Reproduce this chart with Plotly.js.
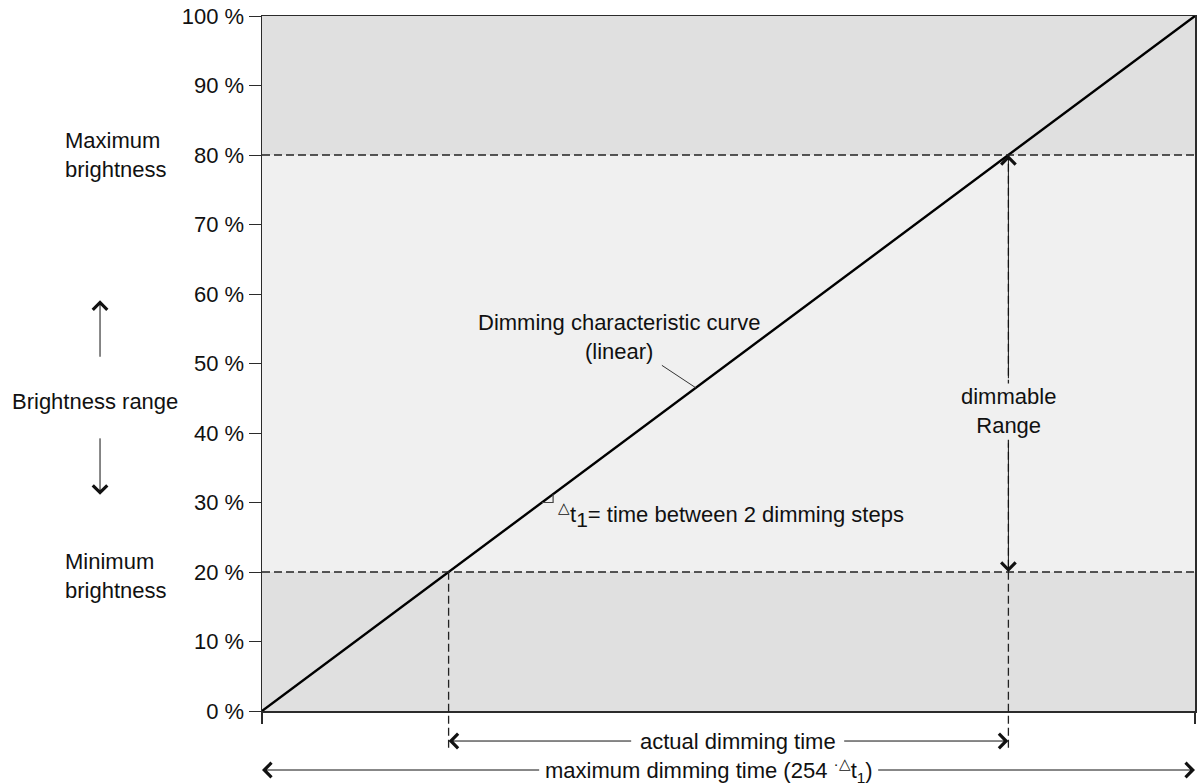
<!DOCTYPE html>
<html>
<head>
<meta charset="utf-8">
<script src="https://cdn.plot.ly/plotly-3.0.1.min.js"></script>
<style>html,body{margin:0;padding:0;background:#fff;}#chart{width:1203px;height:783px;}</style>
</head>
<body>
<div id="chart"></div>
<script>
// ---- data ----
const maxSteps = 254;                 // maximum dimming time = 254 * Δt1
const curveX = [0, 254];              // dimming steps
const curveY = [0, 100];              // brightness %
const minBrightness = 20;             // %
const maxBrightness = 80;             // %
const yTickVals = [0, 10, 20, 30, 40, 50, 60, 70, 80, 90, 100];
const yTickText = ['0 %', '10 %', '20 %', '30 %', '40 %', '50 %', '60 %', '70 %', '80 %', '90 %', '100 %'];
const stepMarkPct = 30;               // where the Δt1 step is marked on the curve

// ---- helpers ----
const xAtPct = p => maxSteps * p / 100;
const xMin = xAtPct(minBrightness);
const xMax = xAtPct(maxBrightness);
const FONT = 'Liberation Sans, Arial, sans-serif';
const DARK = '#2b2b2b';
const BAND_DARK = '#e0e0e0';
const BAND_LIGHT = '#f0f0f0';
const FS = 22;
const CLEAR = 'rgba(0,0,0,0)';

const trace = {
  x: curveX, y: curveY, type: 'scatter', mode: 'lines',
  line: {color: '#000', width: 2.4}, hoverinfo: 'skip', showlegend: false
};

const dashStyle = {color: '#222', width: 1.3, dash: '8px,4px'};
const stepW = maxSteps * 0.012;
const s0x = xAtPct(stepMarkPct), s0y = stepMarkPct;
const s1x = s0x + stepW, s1y = s1x / maxSteps * 100;

const shapes = [
  // brightness bands
  {type: 'rect', xref: 'x', yref: 'y', x0: 0, x1: maxSteps, y0: 0, y1: minBrightness, fillcolor: BAND_DARK, line: {width: 0}, layer: 'below'},
  {type: 'rect', xref: 'x', yref: 'y', x0: 0, x1: maxSteps, y0: minBrightness, y1: maxBrightness, fillcolor: BAND_LIGHT, line: {width: 0}, layer: 'below'},
  {type: 'rect', xref: 'x', yref: 'y', x0: 0, x1: maxSteps, y0: maxBrightness, y1: 100, fillcolor: BAND_DARK, line: {width: 0}, layer: 'below'},
  // horizontal dashed guides
  {type: 'line', xref: 'x', yref: 'y', x0: 0, x1: maxSteps, y0: minBrightness, y1: minBrightness, line: dashStyle},
  {type: 'line', xref: 'x', yref: 'y', x0: 0, x1: maxSteps, y0: maxBrightness, y1: maxBrightness, line: dashStyle},
  // vertical dashed guides extending below the axis
  {type: 'line', xref: 'x', yref: 'paper', x0: xMin, x1: xMin, y0: -0.053, y1: minBrightness / 100, line: dashStyle},
  {type: 'line', xref: 'x', yref: 'paper', x0: xMax, x1: xMax, y0: -0.053, y1: maxBrightness / 100, line: dashStyle},
  // small step mark (Δt1)
  {type: 'path', xref: 'x', yref: 'y',
   path: `M${s0x},${s0y} L${s1x},${s0y} L${s1x},${s1y}`,
   line: {color: '#444', width: 1.2}}
];

const txt = (color) => ({family: FONT, size: FS, color: color || '#111'});
const arrowBase = {arrowcolor: '#111', arrowwidth: 1, arrowsize: 2.8, arrowhead: 4, standoff: 0, startstandoff: 0, showarrow: true, arrowside: 'end'};

// a label sitting on an arrow line: two invisible-text annotations shoot the arrows from the text box edges,
// then the visible label is drawn on top with a tight background matching its surroundings
function splitArrow(common, ends, bg, labelY) {
  const arrows = ends.map(e => Object.assign({}, arrowBase, common, e, {font: txt(CLEAR)}));
  const label = {xref: common.xref, yref: common.yref, x: common.ax, y: labelY, text: common.text, align: 'center',
    showarrow: false, font: txt(), bgcolor: bg, borderpad: 0, xanchor: 'center', yanchor: 'middle'};
  return arrows.concat([label]);
}

const yActual = -0.0432, yMaxTime = -0.0849;
const xActualMid = (xMin + xMax) / 2 + 2.5;
const xMaxMid = maxSteps / 2 - 5.4;
const rangeMid = 43.2;

const annotations = [
  // left side labels
  {xref: 'paper', yref: 'y', x: -0.1565, y: maxBrightness, text: 'Maximum<br>brightness', showarrow: false, font: txt(), align: 'left', xanchor: 'center', yanchor: 'middle'},
  {xref: 'paper', yref: 'y', x: -0.1565, y: minBrightness - 0.6, text: 'Minimum<br>brightness', showarrow: false, font: txt(), align: 'left', xanchor: 'center', yanchor: 'middle'},
  {xref: 'paper', yref: 'y', x: -0.179, y: 44.5, text: 'Brightness range', showarrow: false, font: txt(), xanchor: 'center', yanchor: 'middle'},
  // up / down arrows
  Object.assign({}, arrowBase, {xref: 'paper', yref: 'paper', x: -0.1736, y: 0.591, ax: 0, ay: 58, text: ''}),
  Object.assign({}, arrowBase, {xref: 'paper', yref: 'paper', x: -0.1736, y: 0.311, ax: 0, ay: -58, text: ''}),
  // curve label with leader line to the curve
  {xref: 'x', yref: 'y', x: xAtPct(46.5), y: 46.5, ax: -77, ay: -51, text: 'Dimming characteristic curve<br>(linear)', showarrow: true, arrowhead: 0, arrowwidth: 1, arrowcolor: '#333', standoff: 0, font: txt(), align: 'center'},
  // Δt1 label
  {xref: 'x', yref: 'y', x: 80.0, y: 28.2, text: '<sup>△</sup>t<sub><span style="font-size:21px">1</span></sub>= time between 2 dimming steps', showarrow: false, font: txt(), xanchor: 'left', yanchor: 'middle'}
].concat(
  // dimmable range arrow with label
  splitArrow({xref: 'x', yref: 'y', axref: 'x', ayref: 'y', ax: xMax, ay: rangeMid, text: 'dimmable<br>Range', align: 'center', borderpad: 5},
             [{x: xMax, y: maxBrightness}, {x: xMax, y: minBrightness}], BAND_LIGHT, rangeMid),
  // maximum dimming time arrow
  splitArrow({xref: 'x', yref: 'paper', axref: 'x', ayref: 'pixel', ax: xMaxMid, ay: 0, y: yMaxTime, text: 'maximum dimming time (' + maxSteps + ' <sup>·△</sup>t<sub>1</sub>)', borderpad: 5},
             [{x: 0}, {x: maxSteps}], '#fff', yMaxTime),
  // actual dimming time arrow
  splitArrow({xref: 'x', yref: 'paper', axref: 'x', ayref: 'pixel', ax: xActualMid, ay: 0, y: yActual, text: 'actual dimming time', borderpad: 8},
             [{x: xMin}, {x: xMax}], '#fff', yActual)
);

const layout = {
  width: 1203, height: 783,
  margin: {l: 262, r: 8, t: 16, b: 72, pad: 0},
  paper_bgcolor: '#fff', plot_bgcolor: BAND_LIGHT,
  showlegend: false,
  font: {family: FONT, size: FS, color: '#111'},
  xaxis: {
    range: [0, maxSteps], showgrid: false, zeroline: false,
    showline: true, linecolor: DARK, linewidth: 1.5, mirror: true,
    ticks: 'outside', ticklen: 11, tickwidth: 1.5, tickcolor: DARK,
    tickvals: [0, maxSteps], showticklabels: false, fixedrange: true, automargin: false
  },
  yaxis: {
    range: [0, 100], showgrid: false, zeroline: false,
    showline: true, linecolor: DARK, linewidth: 1.5, mirror: true,
    ticks: 'outside', ticklen: 12, tickwidth: 1, tickcolor: DARK,
    tickvals: yTickVals, ticktext: yTickText, tickfont: {family: FONT, size: FS, color: '#111'},
    fixedrange: true, automargin: false
  },
  shapes: shapes,
  annotations: annotations
};

Plotly.newPlot('chart', [trace], layout, {displayModeBar: false, staticPlot: true});
</script>
</body>
</html>
